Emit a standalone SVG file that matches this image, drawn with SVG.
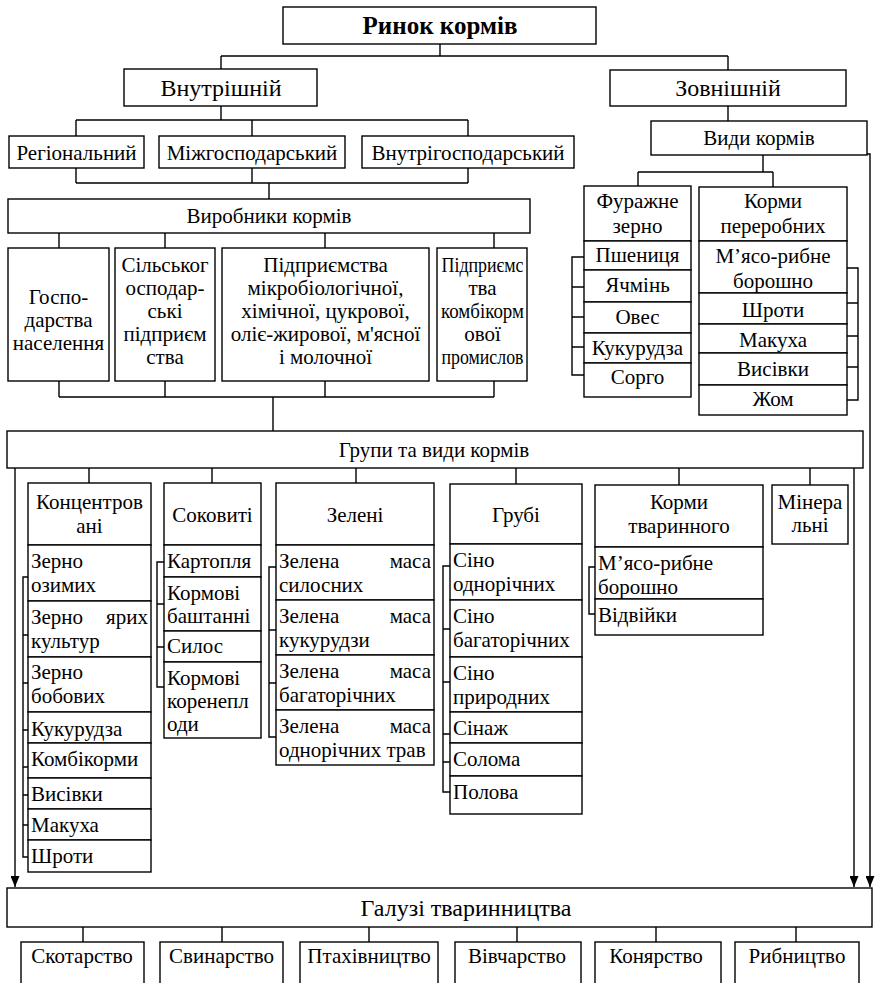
<svg xmlns="http://www.w3.org/2000/svg" width="875" height="983" viewBox="0 0 875 983">
<defs>
<style>
.b{fill:#fff;stroke:#000;stroke-width:1.4}
.l{fill:none;stroke:#000;stroke-width:1.4}
text{font-size:21px;fill:#000}
.c{text-anchor:middle}
.r{text-anchor:end}
text.big{font-size:24px}
text.title{font-size:25px;font-weight:bold}
</style>
<marker id="arr" viewBox="0 0 11 9" refX="11" refY="4.5" markerWidth="11" markerHeight="9" markerUnits="userSpaceOnUse" orient="auto">
<path d="M0,0 L11,4.5 L0,9 z" fill="#000"/>
</marker>
</defs>
<rect width="875" height="983" fill="#fff"/>

<g id="connectors" class="l">
<path d="M440,44 V56 M221,56 H728 M221,56 V69 M728,56 V70"/>
<path d="M221,106 V120 M76,120 H468 M76,120 V136 M252,120 V136 M468,120 V136"/>
<path d="M76,168 V183 M252,168 V183 M468,168 V183 M76,183 H468 M269,183 V199"/>
<path d="M59,233 V248 M165,233 V248 M325,233 V248 M494,233 V248"/>
<path d="M59,381 V397 M165,381 V397 M325,381 V397 M494,381 V397 M59,397 H494 M273,397 V431"/>
<path d="M728,106 V121 M763,155 V172 M638,172 H773 M638,172 V186 M773,172 V187"/>
<path d="M584,257 H572 V375 H584 M572,287 H584 M572,317 H584 M572,347 H584"/>
<path d="M847,268 H858 V400 H847 M847,303 H858 M847,336 H858 M847,367 H858"/>
<path d="M89,468 V483 M212,468 V483 M356,468 V483 M516,468 V484 M679,468 V485 M810,468 V485"/>
<path d="M28,577 H23 V857 H28 M23,635 H28 M23,683 H28 M23,730 H28 M23,767 H28 M23,795 H28 M23,825 H28"/>
<path d="M164,562 H157 V687 H164 M157,604 H164 M157,647 H164"/>
<path d="M276,567 H269 V737 H276 M269,630 H276 M269,683 H276"/>
<path d="M450,566 H443 V792 H450 M443,629 H450 M443,682 H450 M443,734 H450 M443,762 H450"/>
<path d="M595,567 H589 V614 H595"/>
<path d="M83,927 V942 M222,927 V942 M369,927 V942 M517,927 V942 M656,927 V942 M796,927 V942"/>
<path d="M15,468 V887" marker-end="url(#arr)"/>
<path d="M854,468 V887" marker-end="url(#arr)"/>
<path d="M867,154 H870 V887" marker-end="url(#arr)"/>
</g>

<g font-family="Liberation Serif, Times New Roman, serif">
<g id="rynok"><rect class="b" x="283" y="7" width="313" height="37"/><text class="c title" x="440" y="34">Ринок кормів</text></g>
<g id="vnutrishnii"><rect class="b" x="124" y="69" width="193" height="37"/><text class="c big" x="221" y="96">Внутрішній</text></g>
<g id="zovnishnii"><rect class="b" x="610" y="70" width="236" height="36"/><text class="c big" x="728" y="96">Зовнішній</text></g>
<g id="regionalnyi"><rect class="b" x="9" y="136" width="135" height="32"/><text class="c" x="76.5" y="160">Регіональний</text></g>
<g id="mizhgosp"><rect class="b" x="159" y="136" width="186" height="32"/><text class="c" x="252" y="160">Міжгосподарський</text></g>
<g id="vnutrigosp"><rect class="b" x="362" y="136" width="212" height="32"/><text class="c" x="468" y="160">Внутрігосподарський</text></g>
<g id="vyrobnyky"><rect class="b" x="8" y="199" width="522" height="34"/><text class="c" x="269" y="223">Виробники кормів</text></g>
<g id="hosp"><rect class="b" x="8" y="248" width="101" height="133"/><text class="c" x="58.5"><tspan x="58.5" y="304">Госпо-</tspan><tspan x="58.5" y="327">дарства</tspan><tspan x="58.5" y="350">населення</tspan></text></g>
<g id="silgosp"><rect class="b" x="115" y="248" width="100" height="133"/><text class="c"><tspan x="165" y="272">Сільськог</tspan><tspan x="165" y="295">осподар-</tspan><tspan x="165" y="318">ські</tspan><tspan x="165" y="341">підприєм</tspan><tspan x="165" y="364">ства</tspan></text></g>
<g id="pidpr"><rect class="b" x="222" y="248" width="207" height="133"/><text class="c"><tspan x="325.5" y="272">Підприємства</tspan><tspan x="325.5" y="295">мікробіологічної,</tspan><tspan x="325.5" y="318">хімічної, цукрової,</tspan><tspan x="325.5" y="341">оліє-жирової, м'ясної</tspan><tspan x="325.5" y="364">і молочної</tspan></text></g>
<g id="kombi"><rect class="b" x="437" y="248" width="90" height="133"/>
<text class="c" x="482.5" y="272" textLength="82" lengthAdjust="spacingAndGlyphs">Підприємс</text>
<text class="c" x="482.5" y="295">тва</text>
<text class="c" x="482.5" y="318" textLength="83" lengthAdjust="spacingAndGlyphs">комбікорм</text>
<text class="c" x="482.5" y="341">ової</text>
<text class="c" x="482.5" y="364" textLength="82" lengthAdjust="spacingAndGlyphs">промислов</text></g>

<g id="vydy"><rect class="b" x="651" y="121" width="216" height="34"/><text class="c" x="759" y="145">Види кормів</text></g>
<g id="furazh"><rect class="b" x="584" y="186" width="107" height="55"/><text class="c"><tspan x="637.5" y="208">Фуражне</tspan><tspan x="637.5" y="233">зерно</tspan></text>
<rect class="b" x="584" y="241" width="107" height="29"/><text class="c" x="637.5" y="262">Пшениця</text>
<rect class="b" x="584" y="270" width="107" height="32"/><text class="c" x="637.5" y="292">Ячмінь</text>
<rect class="b" x="584" y="302" width="107" height="31"/><text class="c" x="637.5" y="324">Овес</text>
<rect class="b" x="584" y="333" width="107" height="30"/><text class="c" x="637.5" y="355">Кукурудза</text>
<rect class="b" x="584" y="363" width="107" height="34"/><text class="c" x="637.5" y="384">Сорго</text></g>
<g id="pererob"><rect class="b" x="699" y="187" width="148" height="54"/><text class="c"><tspan x="773" y="208">Корми</tspan><tspan x="773" y="233">переробних</tspan></text>
<rect class="b" x="699" y="241" width="148" height="52"/><text class="c"><tspan x="773" y="263">М’ясо-рибне</tspan><tspan x="773" y="288">борошно</tspan></text>
<rect class="b" x="699" y="293" width="148" height="31"/><text class="c" x="773" y="317">Шроти</text>
<rect class="b" x="699" y="324" width="148" height="29"/><text class="c" x="773" y="347">Макуха</text>
<rect class="b" x="699" y="353" width="148" height="32"/><text class="c" x="773" y="376">Висівки</text>
<rect class="b" x="699" y="385" width="148" height="30"/><text class="c" x="773" y="406">Жом</text></g>

<g id="hrupy"><rect class="b" x="7" y="431" width="856" height="37"/><text class="c" x="434" y="457">Групи та види кормів</text></g>

<g id="koncentr"><rect class="b" x="28" y="483" width="123" height="62"/><text class="c"><tspan x="89.5" y="509">Концентров</tspan><tspan x="89.5" y="533">ані</tspan></text>
<rect class="b" x="28" y="545" width="123" height="56"/><text><tspan x="31" y="568">Зерно</tspan><tspan x="31" y="592">озимих</tspan></text>
<rect class="b" x="28" y="601" width="123" height="56"/><text><tspan x="31" y="624">Зерно</tspan><tspan x="31" y="648">культур</tspan></text><text class="r" x="148" y="624">ярих</text>
<rect class="b" x="28" y="657" width="123" height="55"/><text><tspan x="31" y="679">Зерно</tspan><tspan x="31" y="703">бобових</tspan></text>
<rect class="b" x="28" y="712" width="123" height="31"/><text x="31" y="736">Кукурудза</text>
<rect class="b" x="28" y="743" width="123" height="35"/><text x="31" y="766">Комбікорми</text>
<rect class="b" x="28" y="778" width="123" height="31"/><text x="31" y="801">Висівки</text>
<rect class="b" x="28" y="809" width="123" height="31"/><text x="31" y="832">Макуха</text>
<rect class="b" x="28" y="840" width="123" height="32"/><text x="31" y="863">Шроти</text></g>

<g id="sokovyti"><rect class="b" x="164" y="483" width="97" height="62"/><text class="c" x="212.5" y="522">Соковиті</text>
<rect class="b" x="164" y="545" width="97" height="32"/><text x="167" y="568">Картопля</text>
<rect class="b" x="164" y="577" width="97" height="54"/><text><tspan x="167" y="600">Кормові</tspan><tspan x="167" y="623">баштанні</tspan></text>
<rect class="b" x="164" y="631" width="97" height="31"/><text x="167" y="653">Силос</text>
<rect class="b" x="164" y="662" width="97" height="76"/><text><tspan x="167" y="685">Кормові</tspan><tspan x="167" y="708">коренепл</tspan><tspan x="167" y="731">оди</tspan></text></g>

<g id="zeleni"><rect class="b" x="276" y="483" width="158" height="62"/><text class="c" x="355" y="522">Зелені</text>
<rect class="b" x="276" y="545" width="158" height="55"/><text><tspan x="279" y="568">Зелена</tspan><tspan x="279" y="592">силосних</tspan></text><text class="r" x="431" y="568">маса</text>
<rect class="b" x="276" y="600" width="158" height="55"/><text><tspan x="279" y="623">Зелена</tspan><tspan x="279" y="647">кукурудзи</tspan></text><text class="r" x="431" y="623">маса</text>
<rect class="b" x="276" y="655" width="158" height="55"/><text><tspan x="279" y="678">Зелена</tspan><tspan x="279" y="702">багаторічних</tspan></text><text class="r" x="431" y="678">маса</text>
<rect class="b" x="276" y="710" width="158" height="55"/><text><tspan x="279" y="733">Зелена</tspan><tspan x="279" y="757">однорічних трав</tspan></text><text class="r" x="431" y="733">маса</text></g>

<g id="hrubi"><rect class="b" x="450" y="484" width="132" height="60"/><text class="c" x="516" y="522">Грубі</text>
<rect class="b" x="450" y="544" width="132" height="56"/><text><tspan x="453" y="567">Сіно</tspan><tspan x="453" y="591">однорічних</tspan></text>
<rect class="b" x="450" y="600" width="132" height="57"/><text><tspan x="453" y="623">Сіно</tspan><tspan x="453" y="647">багаторічних</tspan></text>
<rect class="b" x="450" y="657" width="132" height="55"/><text><tspan x="453" y="680">Сіно</tspan><tspan x="453" y="704">природних</tspan></text>
<rect class="b" x="450" y="712" width="132" height="31"/><text x="453" y="735">Сінаж</text>
<rect class="b" x="450" y="743" width="132" height="33"/><text x="453" y="766">Солома</text>
<rect class="b" x="450" y="776" width="132" height="38"/><text x="453" y="799">Полова</text></g>

<g id="tvarynnoho"><rect class="b" x="595" y="485" width="168" height="62"/><text class="c"><tspan x="679" y="509">Корми</tspan><tspan x="679" y="533">тваринного</tspan></text>
<rect class="b" x="595" y="547" width="168" height="52"/><text><tspan x="598" y="570">М’ясо-рибне</tspan><tspan x="598" y="594">борошно</tspan></text>
<rect class="b" x="595" y="599" width="168" height="36"/><text x="598" y="622">Відвійки</text></g>

<g id="mineralni"><rect class="b" x="772" y="485" width="76" height="59"/><text class="c"><tspan x="810" y="509">Мінера</tspan><tspan x="810" y="532">льні</tspan></text></g>

<g id="haluzi"><rect class="b" x="7" y="888" width="865" height="39"/><text class="c big" x="466" y="916">Галузі тваринництва</text></g>
<g id="skot"><rect class="b" x="21" y="942" width="123" height="60"/><text class="c" x="82" y="963">Скотарство</text></g>
<g id="svyn"><rect class="b" x="160" y="942" width="123" height="60"/><text class="c" x="221.5" y="963">Свинарство</text></g>
<g id="ptakh"><rect class="b" x="300" y="942" width="138" height="60"/><text class="c" x="369" y="963">Птахівництво</text></g>
<g id="vivch"><rect class="b" x="455" y="942" width="126" height="60"/><text class="c" x="517" y="963">Вівчарство</text></g>
<g id="konia"><rect class="b" x="595" y="942" width="126" height="60"/><text class="c" x="656" y="963">Конярство</text></g>
<g id="ryb"><rect class="b" x="735" y="942" width="124" height="60"/><text class="c" x="797" y="963">Рибництво</text></g>
</g>
</svg>
